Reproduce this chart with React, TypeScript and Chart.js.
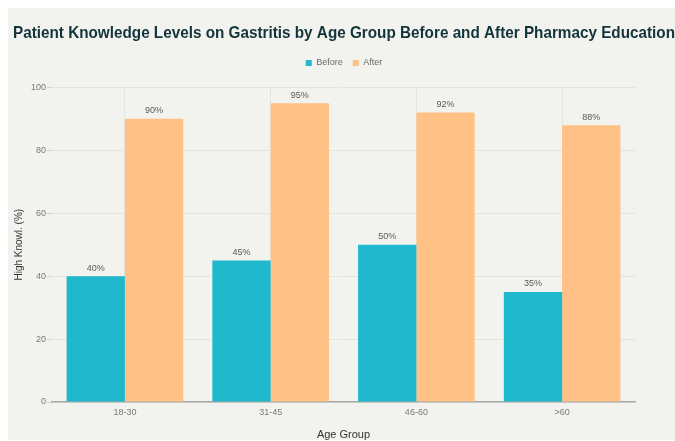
import React, { useEffect, useRef } from "react";
import { Chart, registerables } from "chart.js";

Chart.register(...registerables);

const categories = ["18-30", "31-45", "46-60", ">60"];
const beforeValues = [40, 45, 50, 35];
const afterValues = [90, 95, 92, 88];
const yTicks = [0, 20, 40, 60, 80, 100];

const FONT = "'Liberation Sans', Arial, sans-serif";

const barLabelPlugin = {
  id: "barLabels",
  afterDatasetsDraw(chart: any) {
    const ctx = chart.ctx;
    ctx.save();
    ctx.font = `9px ${FONT}`;
    ctx.fillStyle = "#5a5a5a";
    ctx.textAlign = "center";
    ctx.textBaseline = "middle";
    chart.data.datasets.forEach((ds: any, i: number) => {
      const meta = chart.getDatasetMeta(i);
      meta.data.forEach((bar: any, j: number) => {
        ctx.fillText(`${ds.data[j]}%`, bar.x, bar.y - 8);
      });
    });
    ctx.restore();
  },
};

const legendMarginPlugin = {
  id: "legendMargin",
  beforeInit(chart: any) {
    const legend = chart.legend;
    if (!legend) return;
    const origFit = legend.fit;
    legend.fit = function () {
      origFit.call(this);
      this.height += 10;
    };
  },
};

export default function App() {
  const ref = useRef<HTMLCanvasElement | null>(null);
  useEffect(() => {
    if (!ref.current) return;
    const chart = new Chart(ref.current, {
      type: "bar",
      data: {
        labels: categories,
        datasets: [
          { label: "Before", data: beforeValues, backgroundColor: "#1FB8CD", borderWidth: 0, yAxisID: "y" },
          { label: "After", data: afterValues, backgroundColor: "#FFC185", borderWidth: 0, yAxisID: "y" },
        ],
      },
      plugins: [barLabelPlugin, legendMarginPlugin],
      options: {
        animation: false,
        responsive: false,
        devicePixelRatio: 1,
        layout: { padding: { left: 5, right: 0, top: 0, bottom: 0 } },
        datasets: { bar: { categoryPercentage: 0.8, barPercentage: 1.0 } },
        plugins: {
          title: {
            display: true,
            text: "Patient Knowledge Levels on Gastritis by Age Group Before and After Pharmacy Education",
            color: "#13343B",
            font: { family: FONT, size: 17, weight: "bold" },
            padding: { top: 15, bottom: 5 },
          },
          legend: {
            display: true,
            position: "top",
            labels: {
              boxWidth: 6,
              boxHeight: 6,
              padding: 10,
              color: "#6a6a6a",
              font: { family: FONT, size: 9 },
            },
          },
          tooltip: { enabled: false },
        },
        scales: {
          x: {
            grid: { display: true, offset: false, drawTicks: false, color: "#E4E4DF", lineWidth: 1 },
            border: { display: true, color: "#A8A8A8", width: 1.5 },
            ticks: { color: "#7a7a7a", font: { family: FONT, size: 9 }, padding: 5 },
            title: {
              display: true,
              text: "Age Group",
              color: "#333333",
              font: { family: FONT, size: 11 },
              padding: { top: 6, bottom: -2 },
            },
          },
          y: {
            min: 0,
            max: 100,
            afterBuildTicks: (axis: any) => {
              axis.ticks = yTicks.map((v) => ({ value: v }));
            },
            grid: { color: "#E4E4DF", lineWidth: 1, drawTicks: true, tickLength: 5, tickColor: "#D0D0CC" },
            border: { display: false },
            ticks: { color: "#7a7a7a", font: { family: FONT, size: 9 }, padding: 1 },
            title: {
              display: true,
              text: "High Knowl. (%)",
              color: "#333333",
              font: { family: FONT, size: 10 },
              padding: { top: 0, bottom: 5 },
            },
          },
          yRight: {
            position: "right",
            display: true,
            min: 0,
            max: 100,
            grid: { display: false, drawTicks: false },
            border: { display: false },
            ticks: { display: false },
            afterFit: (scale: any) => {
              scale.width = 40;
            },
          },
        },
      },
    });
    return () => chart.destroy();
  }, []);
  return (
    <div style={{ position: "absolute", left: 8, top: 8, width: 667, height: 432, background: "#F2F2EE" }}>
      <canvas ref={ref} width={667} height={432} style={{ display: "block" }} />
    </div>
  );
}
